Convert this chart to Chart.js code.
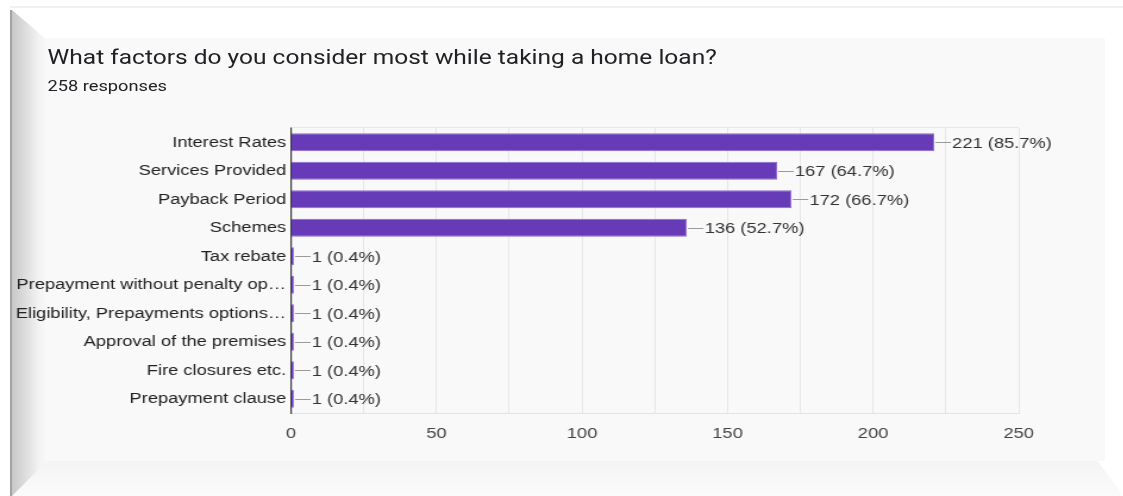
<!DOCTYPE html>
<html>
<head>
<meta charset="utf-8">
<script src="https://cdn.jsdelivr.net/npm/chart.js@4"></script>
<style>
  html, body { margin: 0; padding: 0; background: #fff; }
  body { width: 1123px; height: 496px; position: relative; overflow: hidden; }
  .topline { position: absolute; left: 10px; top: 6px; width: 1113px; height: 2px; background: #f0f0f0; }
  .frame { position: absolute; left: 10px; top: 10px; width: 1113px; height: 486px; background: #fff; border-left: 2px solid #a3a3a3; box-sizing: border-box; }
  .frame div { position: absolute; }
  .bottom { left: 0; bottom: 0; width: 100%; height: 36px;
    background: linear-gradient(#f4f4f4, #fbfbfb);
    clip-path: polygon(0 100%, 33px 0, calc(100% - 26px) 0, calc(100% - 2px) 90%, calc(100% - 2px) 100%); }
  .left { left: 0; top: 0; width: 34px; height: 100%;
    background: linear-gradient(to right, #c8c8c8, #f3f3f3 80%, #f7f7f7);
    clip-path: polygon(0 0, 100% 29px, 100% calc(100% - 34px), 0 100%); }
  .panel { left: 33px; top: 28px; right: 18px; bottom: 35px; background: #f9f9f9; }
  #stage { position: absolute; left: 0; top: 0; width: 944px; height: 496px; transform: scaleX(1.19); transform-origin: 0 0; }
  #stage canvas { position: absolute; left: 0; top: 0; }
  .title { position: absolute; left: 40px; top: 45px; font: 20.6px Roboto, Arial, sans-serif; line-height: 24px; color: #202124; white-space: nowrap; }
  .sub { position: absolute; left: 40px; top: 77px; font: 15.3px Roboto, Arial, sans-serif; line-height: 18px; color: #202124; white-space: nowrap; }
</style>
</head>
<body>
<div class="topline"></div>
<div class="frame">
  <div class="bottom"></div>
  <div class="left"></div>
  <div class="panel"></div>
</div>
<div id="stage">
  <div class="title">What factors do you consider most while taking a home loan?</div>
  <div class="sub">258 responses</div>
  <canvas id="chart" width="944" height="496"></canvas>
</div>
<script>
const categories = [
  "Interest Rates",
  "Services Provided",
  "Payback Period",
  "Schemes",
  "Tax rebate",
  "Prepayment without penalty op\u2026",
  "Eligibility, Prepayments options\u2026",
  "Approval of the premises",
  "Fire closures etc.",
  "Prepayment clause"
];
const responses = [221, 167, 172, 136, 1, 1, 1, 1, 1, 1];
const totalResponses = 258;
const axisMax = 250;
const gridStep = 25;
const labelStep = 50;

const labelFont = { family: "'Liberation Sans', Arial, sans-serif", size: 15.4 };

// leader line + "count (pct%)" to the right of every bar
const valueLabels = {
  id: "valueLabels",
  afterDatasetsDraw(chart) {
    const ctx = chart.ctx;
    const meta = chart.getDatasetMeta(0);
    ctx.save();
    ctx.font = "15.4px 'Liberation Sans', Arial, sans-serif";
    ctx.textBaseline = "middle";
    ctx.textAlign = "left";
    meta.data.forEach((bar, i) => {
      const v = responses[i];
      const pct = (v / totalResponses * 100).toFixed(1);
      const x = bar.x, y = bar.y;
      ctx.strokeStyle = "#9a9a9a";
      ctx.lineWidth = 1;
      ctx.beginPath();
      ctx.moveTo(x + 1, Math.round(y) + 0.5);
      ctx.lineTo(x + 14, Math.round(y) + 0.5);
      ctx.stroke();
      ctx.fillStyle = "#333";
      ctx.fillText(v + " (" + pct + "%)", x + 15, y + 1);
    });
    ctx.restore();
  }
};

// light line closing the top of the plot box
const topBorder = {
  id: "topBorder",
  beforeDatasetsDraw(chart) {
    const { ctx, chartArea } = chart;
    ctx.save();
    ctx.strokeStyle = "#e6e6e6";
    ctx.lineWidth = 1;
    ctx.beginPath();
    ctx.moveTo(chartArea.left, Math.round(chartArea.top) - 0.5);
    ctx.lineTo(chartArea.right, Math.round(chartArea.top) - 0.5);
    ctx.stroke();
    ctx.restore();
  }
};

new Chart(document.getElementById("chart"), {
  type: "bar",
  data: {
    labels: categories,
    datasets: [{
      data: responses,
      backgroundColor: "#673ab7",
      borderColor: "#8d6bd0",
      borderWidth: 1,
      barPercentage: 0.63,
      categoryPercentage: 1
    }]
  },
  options: {
    indexAxis: "y",
    responsive: false,
    animation: false,
    layout: { padding: { left: 0, right: 88, top: 128, bottom: 43 } },
    plugins: { legend: { display: false }, tooltip: { enabled: false } },
    scales: {
      x: {
        min: 0,
        max: axisMax,
        afterFit(s) { s.height = 40; },
        ticks: {
          stepSize: gridStep,
          autoSkip: false,
          maxRotation: 0,
          padding: 12,
          color: "#444",
          font: labelFont,
          callback: v => (v % labelStep === 0 ? v : "")
        },
        grid: { color: "#e6e6e6", drawTicks: false },
        border: { color: "#e3e3e3" }
      },
      y: {
        afterFit(s) { s.width = 244.5; },
        ticks: { padding: 4, color: "#222", font: labelFont, autoSkip: false },
        grid: { color: "transparent", drawTicks: false },
        border: { color: "#333", width: 1.2 }
      }
    }
  },
  plugins: [topBorder, valueLabels]
});
</script>
</body>
</html>
